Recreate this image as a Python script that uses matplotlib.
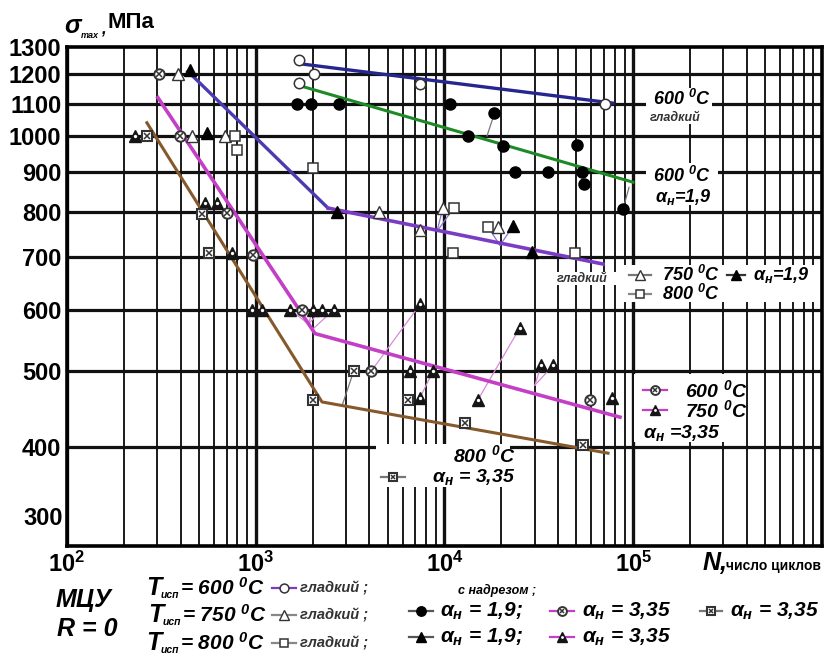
import matplotlib
matplotlib.use('Agg')
import matplotlib.pyplot as plt
from matplotlib.lines import Line2D
from matplotlib.patches import Rectangle
from matplotlib import transforms

plt.rcParams['font.family'] = ['Liberation Sans', 'DejaVu Sans']
plt.rcParams['mathtext.fontset'] = 'custom'
plt.rcParams['mathtext.rm'] = 'Liberation Sans:bold:italic'
plt.rcParams['mathtext.it'] = 'Liberation Sans:bold:italic'
plt.rcParams['mathtext.bf'] = 'Liberation Sans:bold'

# ---- values: N (cycles), sigma_max (MPa)
# 600 C, smooth specimens (open circles)
n_600_smooth = [1700, 2035, 1695, 7420, 70900]
s_600_smooth = [1250, 1200, 1170, 1165, 1100]
fit_600_smooth_n = [1780, 78000]
fit_600_smooth_s = [1236, 1102]

# 600 C, notch alpha = 1.9 (filled circles)
n_600_a19 = [1654, 1962, 2762, 10700, 13400, 18400, 20400, 23600, 35350, 50350, 53500, 54850, 88250]
s_600_a19 = [1100, 1100, 1100, 1100, 1000, 1070, 971, 900, 900, 974, 900, 868, 806]
fit_600_a19_n = [1820, 99700]
fit_600_a19_s = [1155, 873]

# 750 C, smooth (open triangles)
n_750_smooth = [387, 460, 687, 4500, 7420, 9820, 19210]
s_750_smooth = [1200, 1000, 1000, 800, 758, 810, 765]

# 800 C, smooth (open squares)
n_800_smooth = [776, 795, 2011, 11226, 11090, 17005, 49140]
s_800_smooth = [1000, 959, 910, 810, 708, 765, 708]

# 750 C, notch alpha = 1.9 (filled triangles)
n_750_a19 = [448, 552, 2696, 23070, 29080]
s_750_a19 = [1215, 1010, 800, 767, 710]

# common curve for 750/800 C smooth and 750 C alpha = 1.9
fit_750_800_n = [437, 2414, 69150]
fit_750_800_s = [1210, 809, 686]

# 600 C, notch alpha = 3.35 (crossed circles)
n_600_a335 = [307, 397, 704, 967, 1760, 4080, 59020]
s_600_a335 = [1200, 1000, 798, 705, 600, 500, 460]

# 750 C, notch alpha = 3.35
n_750_a335 = [229, 538, 623, 748, 950, 1085, 1519, 2011, 2244, 2598,
              6565, 8693, 7418, 7418, 15050, 25120, 32460, 37570, 77180]
s_750_a335 = [1000, 821, 821, 708, 600, 600, 600, 600, 600, 600,
              500, 500, 609, 463, 460, 569, 509, 509, 463]
fit_a335_n = [303, 2060, 85080]
fit_a335_s = [1120, 559, 437]

# 800 C, notch alpha = 3.35 (crossed squares)
n_800_a335 = [265, 522, 565, 2011, 3300, 6407, 12841, 54190]
s_800_a335 = [1000, 795, 708, 459, 500, 460, 430, 403]
fit_800_a335_n = [265, 2244, 73500]
fit_800_a335_s = [1040, 457, 393]

# thin hand-drawn leader strokes (N0, s0, N1, s1, kind)
leaders = [
    (4080, 500, 7418, 609, 'pink'),
    (25120, 569, 15050, 460, 'pink'),
    (32460, 509, 30130, 480, 'pink'),
    (37570, 509, 30130, 480, 'pink'),
    (7418, 463, 8693, 500, 'pink'),
    (1519, 600, 1900, 575, 'pink'),
    (2011, 600, 1900, 575, 'pink'),
    (2244, 600, 1900, 575, 'pink'),
    (2598, 600, 2000, 566, 'pink'),
    (3300, 500, 2865, 452, 'grey'),
    (9820, 810, 9120, 755, 'violet'),
    (11226, 810, 9120, 755, 'violet'),
    (17005, 765, 19680, 725, 'violet'),
    (23070, 767, 19680, 725, 'violet'),
    (18400, 1070, 16790, 1000, 'grey'),
    (88250, 806, 95000, 860, 'grey'),
]

y_grid = [400, 500, 600, 700, 800, 900, 1000, 1100, 1200]
y_ticks = [400, 500, 600, 700, 800, 900, 1000, 1100, 1200, 1300]
x_ticks = [1e2, 1e3, 1e4, 1e5]
x_tick_labels = [r'$\mathbf{10^{2}}$', r'$\mathbf{10^{3}}$', r'$\mathbf{10^{4}}$', r'$\mathbf{10^{5}}$']

BLUE = '#26268f'
GREEN = '#1e8a26'
VIOLET_A = '#4a3cae'
VIOLET_B = '#7a3cc4'
MAGENTA = '#c33fc6'
BROWN = '#86592c'
LEADER_COLORS = {'pink': '#d78ad8', 'violet': '#8c74d2', 'grey': '#777777'}

MK = {
    'o_open': [dict(marker='o', ms=7.5, mfc='white', mec='#333', mew=1.1)],
    'tri_open': [dict(marker='^', ms=8, mfc='white', mec='#333', mew=1.0)],
    'sq_open': [dict(marker='s', ms=7, mfc='white', mec='#333', mew=1.1)],
    'o_fill': [dict(marker='o', ms=8, mfc='black', mec='black', mew=1)],
    'tri_fill': [dict(marker='^', ms=8.5, mfc='black', mec='black', mew=1)],
    'o_cross': [dict(marker='o', ms=7.5, mfc='white', mec='#333', mew=1.4),
                dict(marker='x', ms=3.8, mec='#333', mew=1.1)],
    'tri_dot': [dict(marker='^', ms=8, mfc='#151515', mec='#151515', mew=1),
                dict(marker='o', ms=2.4, mfc='white', mec='white', mew=0)],
    'sq_cross': [dict(marker='s', ms=7, mfc='white', mec='#333', mew=1.5),
                 dict(marker='x', ms=3.8, mec='#333', mew=1.1)],
}

W, H = 829, 657
fig = plt.figure(figsize=(W / 100, H / 100), dpi=100)
ax = fig.add_axes([67 / W, 1 - 546 / H, 755 / W, 499 / H])
ax.set_xscale('log')
ax.set_yscale('log')
ax.set_xlim(1e2, 1e6)
ax.set_ylim(299, 1300)

# grid of the log paper
for dec in [1e2, 1e3, 1e4, 1e5]:
    for k in range(2, 10):
        ax.axvline(dec * k, color='#1a1a1a', lw=1.4, zorder=1)
    ax.axvline(dec, color='#111', lw=2.4, zorder=1)
for y in y_grid:
    ax.axhline(y, color='#111', lw=2.3, zorder=1)
for sp in ax.spines.values():
    sp.set_linewidth(2.6)

ax.set_yticks(y_ticks)
ax.set_yticklabels([str(v) for v in y_ticks])
ax.yaxis.set_minor_locator(matplotlib.ticker.NullLocator())
ax.xaxis.set_minor_locator(matplotlib.ticker.NullLocator())
ax.set_xticks(x_ticks)
ax.set_xticklabels(x_tick_labels)
ax.tick_params(length=0, labelsize=17, pad=4)
for lab in ax.get_yticklabels():
    lab.set_fontweight('bold')
trans = transforms.blended_transform_factory(ax.transAxes, ax.transData)
ax.text(-0.006, 324, '300', transform=trans, ha='right', va='center',
        fontsize=17, fontweight='bold')

# curves
ax.plot(fit_600_smooth_n, fit_600_smooth_s, color=BLUE, lw=2.4, zorder=3)
ax.plot(fit_600_a19_n, fit_600_a19_s, color=GREEN, lw=2.2, zorder=3)
ax.plot(fit_750_800_n[:2], fit_750_800_s[:2], color=VIOLET_A, lw=2.4, zorder=3)
ax.plot(fit_750_800_n[1:], fit_750_800_s[1:], color=VIOLET_B, lw=2.6, zorder=3)
ax.plot(fit_a335_n, fit_a335_s, color=MAGENTA, lw=2.6, zorder=3)
ax.plot(fit_800_a335_n, fit_800_a335_s, color=BROWN, lw=2.2, zorder=3)

for n0, s0, n1, s1, kind in leaders:
    ax.plot([n0, n1], [s0, s1], color=LEADER_COLORS[kind], lw=0.9, zorder=2.5)


def points(n, s, kind):
    for i, st in enumerate(MK[kind]):
        ax.plot(n, s, ls='none', zorder=5 + i, **st)


points(n_600_smooth, s_600_smooth, 'o_open')
points(n_600_a19, s_600_a19, 'o_fill')
points(n_750_smooth, s_750_smooth, 'tri_open')
points(n_800_smooth, s_800_smooth, 'sq_open')
points(n_750_a19, s_750_a19, 'tri_fill')
points(n_600_a335, s_600_a335, 'o_cross')
points(n_750_a335, s_750_a335, 'tri_dot')
points(n_800_a335, s_800_a335, 'sq_cross')


# ---- labels in figure pixel coordinates
def ptxt(x, y, s, size, ha='left', **kw):
    kw.setdefault('fontweight', 'bold')
    kw.setdefault('fontstyle', 'italic')
    fig.text(x / W, 1 - y / H, s, fontsize=size, ha=ha, va='center', zorder=4, **kw)


def pmark(x, y, kind, color='#555', half=12, scale=0.85):
    yy = 1 - y / H
    fig.add_artist(Line2D([(x - half) / W, (x + half) / W], [yy, yy], color=color, lw=1.6, zorder=3))
    for i, st in enumerate(MK[kind]):
        st = dict(st)
        st['ms'] = st['ms'] * scale
        fig.add_artist(Line2D([x / W], [yy], ls='none', zorder=3.5 + 0.1 * i, **st))


def white_box(x0, y0, x1, y1):
    fig.add_artist(Rectangle((x0 / W, 1 - y1 / H), (x1 - x0) / W, (y1 - y0) / H,
                             transform=fig.transFigure, facecolor='white',
                             edgecolor='none', zorder=2))


DEG = r'$^{0}$C'
AN = r'$\alpha_{н}$'

white_box(646, 88, 712, 124)
ptxt(653, 99, '600 ' + DEG, 13)
ptxt(650, 118, 'гладкий', 9, color='#333')

white_box(646, 163, 718, 205)
ptxt(653, 176, '600 ' + DEG, 13)
ptxt(655, 197, AN + '=1,9', 13)

white_box(553, 272, 616, 285)
ptxt(557, 279, 'гладкий', 9, color='#333')

white_box(622, 265, 816, 302)
pmark(640, 275, 'tri_open', color='#777', half=11)
ptxt(662, 275, '750 ' + DEG, 13)
pmark(736, 275, 'tri_fill', color='#333', half=9)
ptxt(753, 275, AN + '=1,9', 13)
pmark(640, 294, 'sq_open', color='#888', half=11)
ptxt(662, 294, '800 ' + DEG, 13)

white_box(634, 374, 746, 442)
pmark(655, 390, 'o_cross', color=MAGENTA)
ptxt(685, 390, '600 ' + DEG, 14)
pmark(655, 410, 'tri_dot', color=MAGENTA)
ptxt(685, 410, '750 ' + DEG, 14)
ptxt(643, 433, AN + ' =3,35', 14)

white_box(376, 444, 510, 487)
ptxt(453, 455, '800 ' + DEG, 14)
pmark(393, 477, 'sq_cross', color='#777')
ptxt(432, 477, AN + ' = 3,35', 14)

# axis captions
ptxt(64, 26, r'$\sigma$', 18)
ptxt(81, 36, 'max', 6.5)
ptxt(101, 30, ',', 12)
ptxt(108, 22, 'МПа', 16, fontstyle='normal')
ptxt(703, 563, 'N,', 18)
ptxt(726, 566, 'число циклов', 10, fontstyle='normal')

# bottom legend
ptxt(56, 600, 'МЦУ', 18)
ptxt(57, 629, 'R = 0', 18)
for x, y, temp, kind in [(146, 588, '600', 'o_open'),
                         (148, 615, '750', 'tri_open'),
                         (146, 643, '800', 'sq_open')]:
    ptxt(x, y, 'T', 18)
    ptxt(x + 15, y + 7, 'исп', 7.5)
    ptxt(x + 34, y, '= ' + temp + ' ' + DEG, 15)
    pmark(284, y, kind, color=VIOLET_B if kind == 'o_open' else '#888', half=12)
    ptxt(300, y, 'гладкий ;', 10.5, color='#333')

ptxt(458, 590, 'с надрезом ;', 9)
pmark(421, 611, 'o_fill', color='#555', half=12)
ptxt(440, 611, AN + ' = 1,9;', 15)
pmark(562, 611, 'o_cross', color=MAGENTA, half=12)
ptxt(582, 611, AN + ' = 3,35', 15)
pmark(711, 611, 'sq_cross', color='#777', half=11)
ptxt(730, 611, AN + ' = 3,35', 15)
pmark(421, 637, 'tri_fill', color='#555', half=12)
ptxt(440, 637, AN + ' = 1,9;', 15)
pmark(562, 637, 'tri_dot', color=MAGENTA, half=12)
ptxt(582, 637, AN + ' = 3,35', 15)

fig.savefig('out.png', dpi=100)
